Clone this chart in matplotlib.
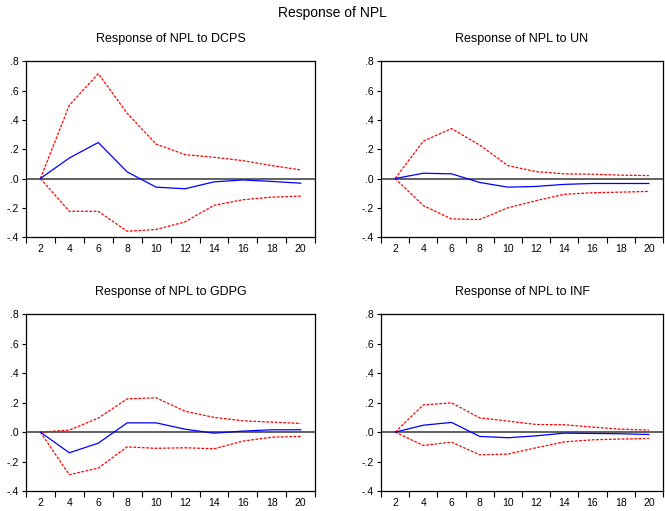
import matplotlib
matplotlib.use("Agg")
import matplotlib.pyplot as plt
import numpy as np

plt.rcParams['font.family'] = ['Liberation Sans', 'DejaVu Sans']

periods = [2, 4, 6, 8, 10, 12, 14, 16, 18, 20]

titles = ['Response of NPL to DCPS', 'Response of NPL to UN',
          'Response of NPL to GDPG', 'Response of NPL to INF']

# impulse responses (blue) and +/- 2 S.E. bands (red)
resp_dcps = [0, 0.140, 0.246, 0.045, -0.059, -0.070, -0.023, -0.010, -0.020, -0.032]
up_dcps = [0, 0.500, 0.716, 0.445, 0.235, 0.163, 0.145, 0.122, 0.088, 0.059]
lo_dcps = [0, -0.224, -0.224, -0.360, -0.348, -0.296, -0.183, -0.145, -0.127, -0.120]

resp_un = [0, 0.036, 0.032, -0.027, -0.059, -0.054, -0.040, -0.034, -0.034, -0.034]
up_un = [0, 0.255, 0.341, 0.228, 0.088, 0.047, 0.032, 0.029, 0.023, 0.020]
lo_un = [0, -0.185, -0.276, -0.280, -0.200, -0.151, -0.108, -0.097, -0.093, -0.088]

resp_gdpg = [0, -0.140, -0.075, 0.063, 0.063, 0.020, -0.007, 0.007, 0.016, 0.016]
up_gdpg = [0, 0.014, 0.095, 0.226, 0.233, 0.142, 0.100, 0.077, 0.068, 0.059]
lo_gdpg = [0, -0.289, -0.244, -0.100, -0.110, -0.106, -0.113, -0.061, -0.034, -0.029]

resp_inf = [0, 0.047, 0.066, -0.029, -0.038, -0.025, -0.007, -0.009, -0.011, -0.016]
up_inf = [0, 0.185, 0.199, 0.097, 0.075, 0.052, 0.050, 0.034, 0.020, 0.014]
lo_inf = [0, -0.090, -0.068, -0.154, -0.149, -0.106, -0.066, -0.052, -0.047, -0.043]

series = [(resp_dcps, up_dcps, lo_dcps), (resp_un, up_un, lo_un),
          (resp_gdpg, up_gdpg, lo_gdpg), (resp_inf, up_inf, lo_inf)]

yticks = [-0.4, -0.2, 0.0, 0.2, 0.4, 0.6, 0.8]
ytick_labels = ['-.4', '-.2', '.0', '.2', '.4', '.6', '.8']

fig = plt.figure(figsize=(6.65, 5.11), dpi=100)

# axes boxes [left, bottom, width, height] in figure fractions
boxes = [[0.039, 0.536, 0.435, 0.344], [0.573, 0.536, 0.424, 0.344],
         [0.039, 0.039, 0.435, 0.346], [0.573, 0.039, 0.424, 0.346]]

for box, title, (resp, up, lo) in zip(boxes, titles, series):
    ax = fig.add_axes(box)
    ax.axhline(0, color='#555555', lw=1.3, zorder=1)
    ax.plot(periods, up, color='red', lw=0.9, ls=(0, (2.2, 1.2)), zorder=2)
    ax.plot(periods, lo, color='red', lw=0.9, ls=(0, (2.2, 1.2)), zorder=2)
    ax.plot(periods, resp, color='blue', lw=0.9, zorder=3)
    ax.set_xlim(1, 21)
    ax.set_ylim(-0.4, 0.8)
    ax.set_yticks(yticks)
    ax.set_yticklabels(ytick_labels)
    # tick marks between periods, labels on even periods
    ax.set_xticks(np.arange(1, 22, 2))
    ax.set_xticklabels([])
    ax.set_xticks(periods, minor=True)
    ax.set_xticklabels([str(p) for p in periods], minor=True)
    ax.tick_params(axis='x', which='minor', length=0, pad=5, labelsize=7.5)
    ax.tick_params(axis='x', which='major', length=4, width=0.8, direction='out')
    ax.tick_params(axis='y', length=3, width=0.8, direction='out', labelsize=7.5, pad=2)
    for s in ax.spines.values():
        s.set_linewidth(0.9)
    ax.set_title(title, fontsize=9, pad=14)

fig.text(0.5, 0.975, 'Response of NPL', ha='center', va='center', fontsize=10)

fig.savefig('out.png', dpi=100)
